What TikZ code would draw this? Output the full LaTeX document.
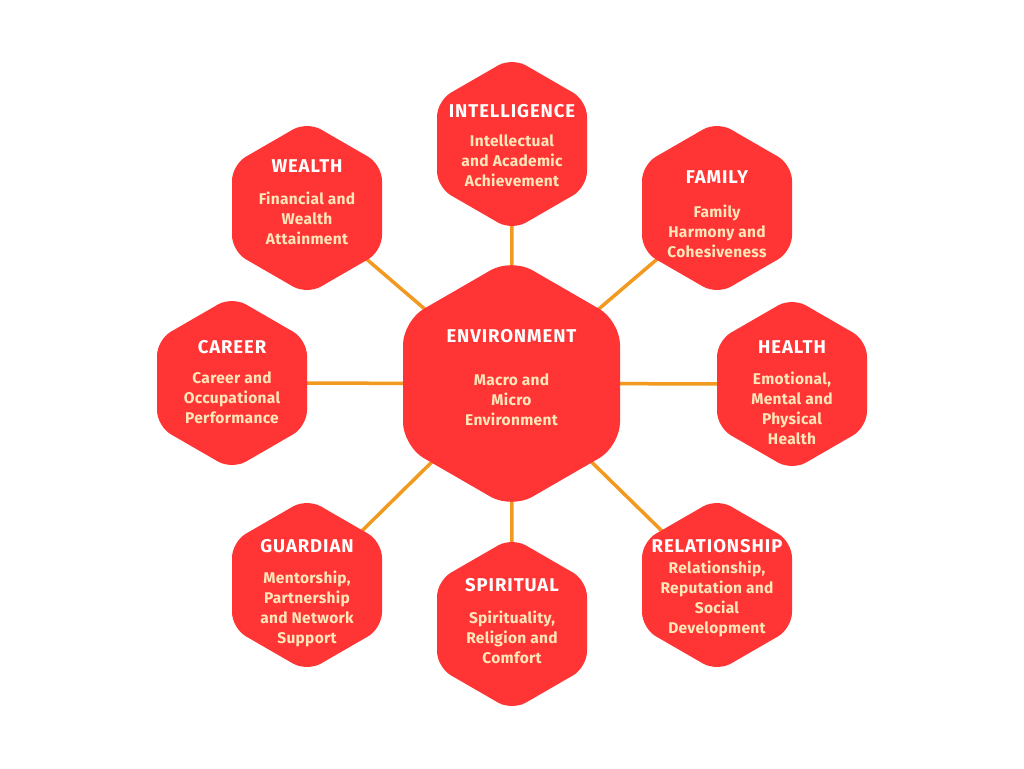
\documentclass[tikz,border=0pt]{standalone}
\usepackage{fontspec}
\setmainfont{Fira Sans}
\newfontfamily\ttlfont{Fira Sans}[LetterSpace=5]
\newfontfamily\dscfont{Fira Sans}[LetterSpace=2]
\definecolor{hexred}{HTML}{FF3434}
\definecolor{cream}{HTML}{FFE7BA}
\definecolor{lineor}{HTML}{F29A1F}
\tikzset{
  conn/.style={draw=lineor, line width=3.5pt},
  smallhex/.style={fill=hexred, rounded corners=16pt},
  bighex/.style={fill=hexred, rounded corners=24pt},
  ttl/.style={text=white, font=\ttlfont\bfseries\fontsize{18.5}{20}\selectfont, inner sep=0pt},
  dsc/.style={text=cream, font=\dscfont\bfseries\fontsize{15.5}{20}\selectfont, align=center, inner sep=0pt},
}
\newcommand\smallhexat[1]{\path[smallhex] (#1) ++(0,-86.6) -- ++(75,43.3) -- ++(0,86.6) -- ++(-75,43.3) -- ++(-75,-43.3) -- ++(0,-86.6) -- cycle;}
\newcommand\bighexat[1]{\path[bighex] (#1) ++(0,-125.3) -- ++(108.5,62.65) -- ++(0,125.3) -- ++(-108.5,62.65) -- ++(-108.5,-62.65) -- ++(0,-125.3) -- cycle;}
\begin{document}
\begin{tikzpicture}[x=1pt,y=-1pt]
\useasboundingbox[fill=white] (0,0) rectangle (1024,768);
% centres
\coordinate (env) at (511.5,383.5);
\coordinate (int) at (512,144);
\coordinate (wea) at (307,208);
\coordinate (fam) at (717,208);
\coordinate (car) at (232,383);
\coordinate (hea) at (792,384);
\coordinate (gua) at (307,585);
\coordinate (spi) at (512,624);
\coordinate (rel) at (717,585);
% connectors
\foreach \n in {int,wea,fam,car,hea,gua,spi,rel} {\draw[conn] (env) -- (\n);}
% hexagons
\bighexat{env}
\foreach \n in {int,wea,fam,car,hea,gua,spi,rel} {\smallhexat{\n}}
% texts
\node[ttl] (envt) at (511.5,336) {ENVIRONMENT};
\node[dsc] (envd) at (511.5,400) {Macro and\\Micro\\Environment};
\node[ttl] (intt) at (512,111) {INTELLIGENCE};
\node[dsc] (intd) at (512,161) {Intellectual\\and Academic\\Achievement};
\node[ttl] (weat) at (307,166) {WEALTH};
\node[dsc] (wead) at (307,218) {Financial and\\Wealth\\Attainment};
\node[ttl] (famt) at (717,177) {FAMILY};
\node[dsc] (famd) at (717,231) {Family\\Harmony and\\Cohesiveness};
\node[ttl] (cart) at (232,347) {CAREER};
\node[dsc] (card) at (232,398) {Career and\\Occupational\\Performance};
\node[ttl] (heat) at (792,347) {HEALTH};
\node[dsc] (head) at (792,408) {Emotional,\\Mental and\\Physical\\Health};
\node[ttl] (guat) at (307,546) {GUARDIAN};
\node[dsc] (guad) at (307,609) {Mentorship,\\Partnership\\and Network\\Support};
\node[ttl] (spit) at (512,585) {SPIRITUAL};
\node[dsc] (spid) at (512,637) {Spirituality,\\Religion and\\Comfort};
\node[ttl] (relt) at (717,546) {RELATIONSHIP};
\node[dsc] (reld) at (717,599) {Relationship,\\Reputation and\\Social\\Development};
\end{tikzpicture}
\end{document}
